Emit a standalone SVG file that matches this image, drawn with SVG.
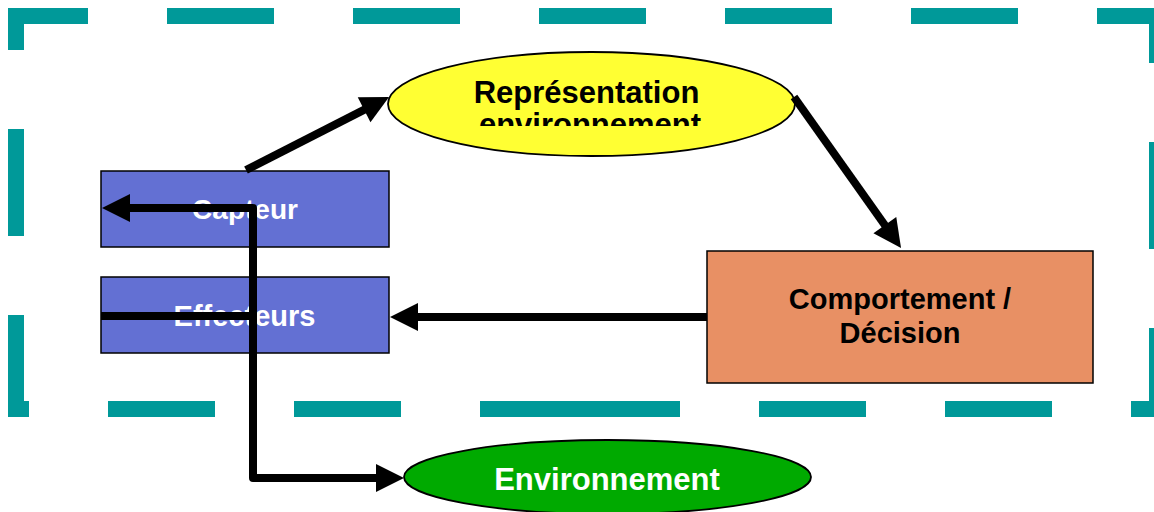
<svg xmlns="http://www.w3.org/2000/svg" width="1154" height="512" viewBox="0 0 1154 512">
  <style>
    .frame { fill: none; stroke: #009999; stroke-width: 16; stroke-linecap: butt; stroke-linejoin: miter; }
    .box { stroke: #000; stroke-width: 1.5; }
    .oval { stroke: #000; stroke-width: 1.8; }
    .lbl { font-family: "Liberation Sans", Arial, sans-serif; font-weight: bold; text-anchor: middle; }
    .dark { fill: #000; }
    .light { fill: #fff; }
    .link { fill: none; stroke: #000; stroke-width: 8; stroke-linejoin: round; stroke-linecap: butt; marker-end: url(#head); }
  </style>
  <defs>
    <marker id="head" markerUnits="userSpaceOnUse" markerWidth="30" markerHeight="30" refX="2" refY="14" orient="auto" overflow="visible">
      <path d="M0,0 L28,14 L0,28 Z" fill="#000"/>
    </marker>
    <clipPath id="repClip">
      <rect x="388" y="50" width="408" height="76"/>
    </clipPath>
  </defs>

  <rect width="1154" height="512" fill="#fff"/>

  <!-- dashed system boundary -->
  <path class="frame" d="M88,16 H16 V50 M167,16 H274 M353,16 H460 M539,16 H646 M725,16 H832 M911,16 H1018 M1097,16 H1157 V63 M1157,142 V249 M1157,328 V409 H1131 M1052,409 H945 M866,409 H759 M680,409 H480 M401,409 H294 M215,409 H108 M29,409 H16 V315 M16,236 V129"/>

  <g id="representation">
    <ellipse class="oval" cx="591.5" cy="104" rx="203.5" ry="52" fill="#FFFF33"/>
    <g clip-path="url(#repClip)">
      <text class="lbl dark" x="586.5" y="103" font-size="31">Représentation</text>
      <text class="lbl dark" x="590" y="135" font-size="31">environnement</text>
    </g>
  </g>

  <g id="capteur">
    <rect class="box" x="101" y="171" width="288" height="76" fill="#6370D3"/>
    <text class="lbl light" x="245" y="219" font-size="28">Capteur</text>
  </g>

  <g id="effecteurs">
    <rect class="box" x="101" y="277" width="288" height="76" fill="#6370D3"/>
    <text class="lbl light" x="244.5" y="326" font-size="29">Effecteurs</text>
  </g>

  <g id="comportement">
    <rect class="box" x="707" y="251" width="386" height="132" fill="#E89064"/>
    <text class="lbl dark" x="900" y="309" font-size="29">Comportement /</text>
    <text class="lbl dark" x="900" y="343" font-size="29">Décision</text>
  </g>

  <g id="environnement">
    <ellipse class="oval" cx="607.5" cy="477" rx="203.5" ry="37" fill="#00AA00"/>
    <text class="lbl light" x="607" y="490" font-size="31">Environnement</text>
  </g>

  <g id="connectors">
    <!-- capteur to representation -->
    <path class="link" d="M246,170 L365.9,108.9"/>
    <!-- representation to comportement -->
    <path class="link" d="M794,97 L886,226.8"/>
    <!-- comportement to effecteurs -->
    <path class="link" d="M707,317 H416"/>
    <!-- effecteurs to environnement -->
    <path class="link" d="M101,316 H253 V478 H378"/>
    <!-- environnement back to capteur -->
    <path class="link" d="M253,316 V208 H128"/>
  </g>
</svg>
